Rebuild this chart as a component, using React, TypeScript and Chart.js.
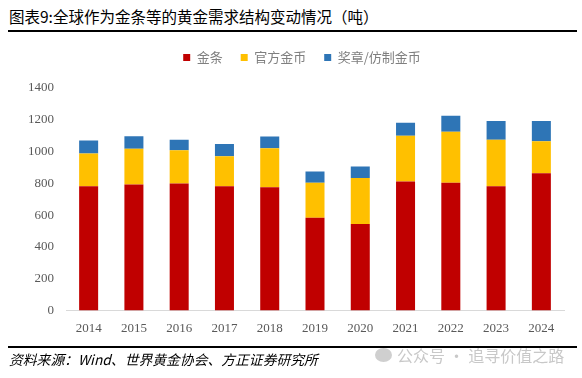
import React, { useEffect, useRef } from "react";
import { Chart, registerables } from "chart.js";

Chart.register(...registerables);

const years = ["2014", "2015", "2016", "2017", "2018", "2019", "2020", "2021", "2022", "2023", "2024"];
const goldBars = [782, 793, 799, 782, 776, 584, 544, 812, 804, 782, 864];
const officialCoins = [205, 224, 209, 188, 245, 219, 289, 287, 320, 293, 201];
const medals = [82, 79, 67, 78, 73, 71, 73, 83, 102, 118, 128];
const yTicks = [0, 200, 400, 600, 800, 1000, 1200, 1400];

const seriesNames = ["金条", "官方金币", "奖章/仿制金币"];
const seriesColors = ["#C00000", "#FFC000", "#2E75B6"];

const titleText = "图表9:全球作为金条等的黄金需求结构变动情况（吨）";
const sourceText = "资料来源：Wind、世界黄金协会、方正证券研究所";
const watermarkText = "公众号 · 追寻价值之路";

const legendMargin = {
  id: "legendMargin",
  beforeInit(chart: any) {
    const origFit = chart.legend.fit;
    chart.legend.fit = function () {
      origFit.bind(chart.legend)();
      this.height += 14;
    };
  },
  afterLayout(chart: any) {
    if (chart.legend) {
      chart.legend.left += 20;
      chart.legend.right += 20;
    }
  },
};

const tickFont = { family: "'Liberation Serif', 'Times New Roman', serif", size: 13 };

export default function App() {
  const canvasRef = useRef<HTMLCanvasElement | null>(null);

  useEffect(() => {
    const canvas = canvasRef.current;
    if (!canvas) return;
    const values = [goldBars, officialCoins, medals];
    const chart = new Chart(canvas, {
      type: "bar",
      data: {
        labels: years,
        datasets: values.map((v, i) => ({
          label: seriesNames[i],
          data: v,
          backgroundColor: seriesColors[i],
          borderWidth: 0,
          categoryPercentage: 1,
          barPercentage: 0.42,
        })),
      },
      plugins: [legendMargin],
      options: {
        animation: false,
        responsive: false,
        maintainAspectRatio: false,
        layout: { padding: { left: 0, right: 18, top: 0, bottom: 0 } },
        plugins: {
          legend: {
            position: "top",
            labels: {
              boxWidth: 7,
              boxHeight: 7,
              padding: 18,
              color: "#7f7f7f",
              font: { family: "'Noto Sans CJK SC', sans-serif", size: 13 },
            },
          },
          tooltip: { enabled: false },
        },
        scales: {
          x: {
            stacked: true,
            grid: { display: false, drawTicks: false },
            border: { display: true, color: "#d9d9d9", width: 1 },
            ticks: {
              color: "#595959",
              padding: 10,
              font: tickFont,
            },
          },
          y: {
            stacked: true,
            min: 0,
            max: 1400,
            afterBuildTicks: (axis: any) => {
              axis.ticks = yTicks.map((v) => ({ value: v }));
            },
            afterFit: (axis: any) => {
              axis.width = 66;
            },
            grid: { display: false },
            border: { display: false },
            ticks: {
              color: "#595959",
              padding: 4,
              callback: (v: any) => String(v),
              font: tickFont,
            },
          },
        },
      },
    });
    return () => chart.destroy();
  }, []);

  return (
    <div
      style={{
        position: "fixed",
        left: 0,
        top: 0,
        width: 582,
        height: 378,
        background: "#fff",
        overflow: "hidden",
      }}
    >
      <div
        style={{
          position: "absolute",
          left: 9,
          top: 6,
          fontFamily: "'Noto Sans CJK SC', sans-serif",
          fontSize: 15.5,
          lineHeight: "20px",
          color: "#000",
          whiteSpace: "nowrap",
        }}
      >
        {titleText}
      </div>
      <div style={{ position: "absolute", left: 8, width: 569, top: 30, height: 2, background: "#000" }} />
      <canvas
        ref={canvasRef}
        width={582}
        height={313}
        style={{ position: "absolute", left: 0, top: 33, width: 582, height: 313 }}
      />
      <div style={{ position: "absolute", left: 8, width: 569, top: 346, height: 2, background: "#000" }} />
      <div
        style={{
          position: "absolute",
          left: 9,
          top: 350,
          fontFamily: "'Noto Sans CJK SC', sans-serif",
          fontStyle: "italic",
          fontSize: 13.8,
          lineHeight: "18px",
          color: "#000",
          whiteSpace: "nowrap",
        }}
      >
        {sourceText}
      </div>
      <div
        style={{
          position: "absolute",
          left: 375,
          top: 345,
          display: "flex",
          alignItems: "center",
          fontFamily: "'Noto Sans CJK SC', sans-serif",
          fontSize: 16,
          lineHeight: "20px",
          color: "#c8c8c8",
          whiteSpace: "nowrap",
        }}
      >
        <span
          style={{
            display: "inline-block",
            width: 17,
            height: 14,
            borderRadius: "50%",
            background: "#cfcfcf",
            marginRight: 5,
          }}
        />
        {watermarkText}
      </div>
    </div>
  );
}
